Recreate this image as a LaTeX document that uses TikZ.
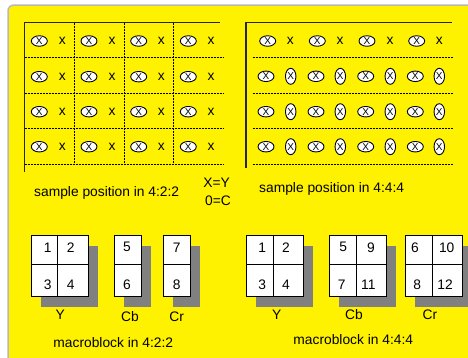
\documentclass[tikz,border=0pt]{standalone}
\usepackage{fontspec}
\setmainfont{Liberation Sans}
\usetikzlibrary{shapes.geometric}
\definecolor{shadowgray}{HTML}{808080}
\definecolor{bordergray}{HTML}{B8B8B8}
\begin{document}
\begin{tikzpicture}[x=1pt,y=-1pt,
  lbl/.style={font=\fontsize{13.8}{15}\selectfont, inner sep=0pt},
  gx/.style={font=\fontsize{13.8}{15}\selectfont, inner sep=0pt},
  hov/.style={draw=black, line width=0.9pt, fill=white, ellipse, minimum width=16pt, minimum height=10.5pt, inner sep=0pt, font=\fontsize{10}{10}\selectfont},
  vov/.style={draw=black, line width=0.9pt, fill=white, ellipse, minimum width=10.5pt, minimum height=16pt, inner sep=0pt, font=\fontsize{10}{10}\selectfont},
  solidln/.style={draw=black!85, line width=1.2pt},
  dashln/.style={draw=black, line width=0.8pt, dash pattern=on 2pt off 1pt},
  cell/.style={draw=black, line width=0.9pt, fill=white, anchor=north west, inner sep=0pt},
  shadowbox/.style={fill=shadowgray},
  num/.style={font=\fontsize{13.8}{15}\selectfont, inner sep=0pt}
]
\useasboundingbox (0,0) rectangle (468,357);
% background
\filldraw[fill=yellow, draw=bordergray, line width=1.5pt, rounded corners=6pt] (8,5) rectangle (500,390);

% ---------- left grid (4:2:2) ----------
\coordinate (LTL) at (24.5,22.7);
\coordinate (LTR) at (220,22.7);
\coordinate (LBL) at (24.5,172);
\draw[solidln] (LBL) -- (LTL) -- (LTR);
\foreach \yy in {57.7,93.3,128.7,164.3}{
  \draw[dashln] (24.5,\yy) -- (224,\yy);
}
\foreach \xx in {74,124,173.7}{
  \draw[dashln] (\xx,22.7) -- (\xx,164.3);
}
\foreach \yy [count=\r] in {41,76.7,111.7,146.7}{
  \foreach \xo/\xx [count=\c] in {39.3/62.3,89/112,138.7/161.3,188.3/211}{
    \node[hov] (lo\r\c) at (\xo,\yy) {X};
    \node[gx] (lx\r\c) at (\xx,\yy) {x};
  }
}

% ---------- right grid (4:4:4) ----------
\coordinate (RTL) at (246,22.7);
\coordinate (RTR) at (451.7,22.7);
\coordinate (RBL) at (246,167.7);
\draw[solidln] (RBL) -- (RTL) -- (RTR);
\foreach \yy in {57.7,93.3,128.7,164.3}{
  \draw[dashln] (252.7,\yy) -- (452.7,\yy);
}
\foreach \xo/\xx [count=\c] in {267.7/290.3,317.3/340,367/390,416.7/439.3}{
  \node[hov] (ro1\c) at (\xo,41) {X};
  \node[gx] (rx1\c) at (\xx,41) {x};
}
\foreach \yy [count=\r from 2] in {76.3,111.7,146.7}{
  \foreach \xo/\xx [count=\c] in {266/290.7,316/340.3,365.7/390.3,415.3/439.3}{
    \node[hov] (ro\r\c) at (\xo,\yy) {X};
    \node[vov] (rv\r\c) at (\xx,\yy) {X};
  }
}

% ---------- texts ----------
\node[lbl] (t422) at (106.7,193.3) {sample position in 4:2:2};
\node[lbl] (txy) at (216.7,182.3) {X=Y};
\node[lbl] (toc) at (218,200.7) {0=C};
\node[lbl] (t444) at (331.7,189) {sample position in 4:4:4};

% ---------- macroblock 4:2:2 ----------
\fill[shadowbox] (41,246) rectangle (97.7,306.7);
\fill[shadowbox] (124,246) rectangle (150.7,306.7);
\fill[shadowbox] (173.3,246) rectangle (200,306.7);
% Y
\node[cell, minimum width=26.3pt, minimum height=29.3pt] (ly1) at (31,235) {};
\node[cell, minimum width=30.4pt, minimum height=29.3pt] (ly2) at (57.3,235) {};
\node[cell, minimum width=26.3pt, minimum height=31.7pt] (ly3) at (31,264.3) {};
\node[cell, minimum width=30.4pt, minimum height=31.7pt] (ly4) at (57.3,264.3) {};
% Cb
\node[cell, minimum width=26.7pt, minimum height=29.3pt] (lcb1) at (114,235) {};
\node[cell, minimum width=26.7pt, minimum height=31.7pt] (lcb2) at (114,264.3) {};
% Cr
\node[cell, minimum width=26.7pt, minimum height=29.3pt] (lcr1) at (163.3,235) {};
\node[cell, minimum width=26.7pt, minimum height=31.7pt] (lcr2) at (163.3,264.3) {};
\node[num] at (47.7,247.3) {1};
\node[num] at (70.7,247.3) {2};
\node[num] at (47.7,284.3) {3};
\node[num] at (70.7,284.3) {4};
\node[num] at (127,247.3) {5};
\node[num] at (127,284.3) {6};
\node[num] at (176.7,247.3) {7};
\node[num] at (176.7,284.3) {8};
\node[lbl] (lyl) at (60.3,315) {Y};
\node[lbl] (lcbl) at (130,316.7) {Cb};
\node[lbl] (lcrl) at (176.7,316.7) {Cr};
\node[lbl] (m422) at (113.3,342.3) {macroblock in 4:2:2};

% ---------- macroblock 4:4:4 ----------
\fill[shadowbox] (256,246) rectangle (312.7,306.7);
\fill[shadowbox] (339,246) rectangle (395.7,306.7);
\fill[shadowbox] (415.3,246) rectangle (472,306.7);
% Y
\node[cell, minimum width=26.7pt, minimum height=28.7pt] (ry1) at (246,235.3) {};
\node[cell, minimum width=30pt, minimum height=28.7pt] (ry2) at (272.7,235.3) {};
\node[cell, minimum width=26.7pt, minimum height=32pt] (ry3) at (246,264) {};
\node[cell, minimum width=30pt, minimum height=32pt] (ry4) at (272.7,264) {};
% Cb
\node[cell, minimum width=26.7pt, minimum height=28.7pt] (rcb1) at (329,235.3) {};
\node[cell, minimum width=30pt, minimum height=28.7pt] (rcb2) at (355.7,235.3) {};
\node[cell, minimum width=26.7pt, minimum height=32pt] (rcb3) at (329,264) {};
\node[cell, minimum width=30pt, minimum height=32pt] (rcb4) at (355.7,264) {};
% Cr
\node[cell, minimum width=26.7pt, minimum height=28.7pt] (rcr1) at (405.3,235.3) {};
\node[cell, minimum width=30pt, minimum height=28.7pt] (rcr2) at (432,235.3) {};
\node[cell, minimum width=26.7pt, minimum height=32pt] (rcr3) at (405.3,264) {};
\node[cell, minimum width=30pt, minimum height=32pt] (rcr4) at (432,264) {};
\node[num] at (262.3,247.3) {1};
\node[num] at (286,247.3) {2};
\node[num] at (262.3,284.3) {3};
\node[num] at (286,284.3) {4};
\node[num] at (343.3,247.3) {5};
\node[num] at (371,247.3) {9};
\node[num] at (341.7,284.3) {7};
\node[num] at (368.3,284.3) {11};
\node[num] at (415,247.3) {6};
\node[num] at (446.7,247.3) {10};
\node[num] at (417.3,284.3) {8};
\node[num] at (445,284.3) {12};
\node[lbl] (ryl) at (276.7,315) {Y};
\node[lbl] (rcbl) at (354,315) {Cb};
\node[lbl] (rcrl) at (430,315) {Cr};
\node[lbl] (m444) at (353.3,340) {macroblock in 4:4:4};
\end{tikzpicture}
\end{document}
